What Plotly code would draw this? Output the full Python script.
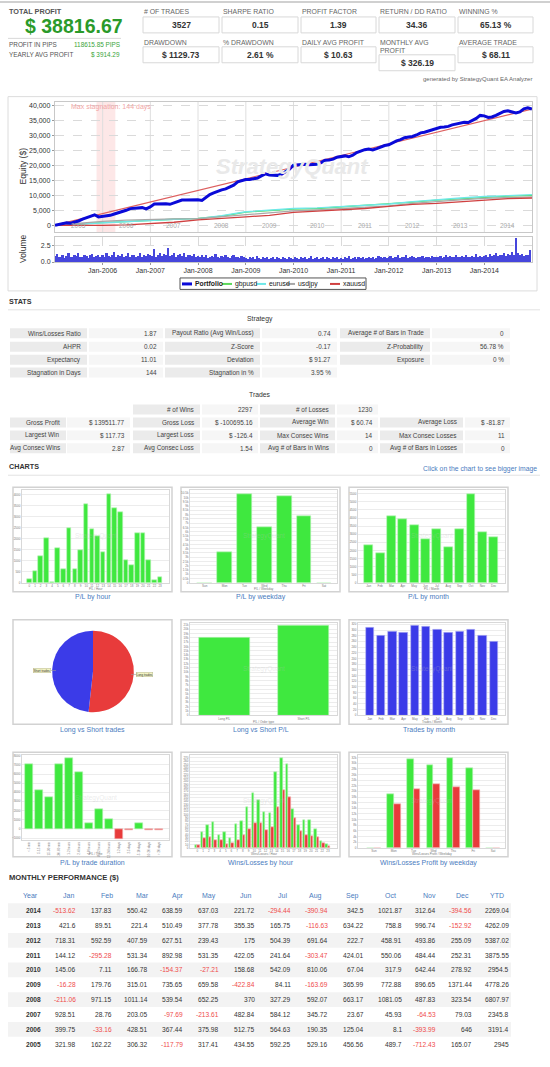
import numpy as np
import pandas as pd
import plotly.graph_objects as go

W, H = 550, 1067
FONT = "Liberation Sans, Arial, sans-serif"
GREEN = "#3fe83f"; GREEN_EDGE = "#b8f3b8"
RED = "#e83b3b"; RED_EDGE = "#f3b8b8"
BLUE = "#3b3be8"; BLUE_EDGE = "#b8b8f3"
LINK = "#4a7cc0"
TXT = "#444444"

# ====================== DATA ======================
summary_title = "TOTAL PROFIT"
summary_total = "$ 38816.67"
summary_side_labels = ["PROFIT IN PIPS", "YEARLY AVG PROFIT"]
summary_side_values = ["118615.85 PIPS", "$ 3914.29"]
kpi_labels_top = ["# OF TRADES", "SHARPE RATIO", "PROFIT FACTOR", "RETURN / DD RATIO", "WINNING %"]
kpi_values_top = ["3527", "0.15", "1.39", "34.36", "65.13 %"]
kpi_labels_bottom = ["DRAWDOWN", "% DRAWDOWN", "DAILY AVG PROFIT", "MONTHLY AVG|PROFIT", "AVERAGE TRADE"]
kpi_values_bottom = ["$ 1129.73", "2.61 %", "$ 10.63", "$ 326.19", "$ 68.11"]
generated_by = "generated by StrategyQuant EA Analyzer"

table_years = [2014, 2013, 2012, 2011, 2010, 2009, 2008, 2007, 2006, 2005]
month_names = ["Jan", "Feb", "Mar", "Apr", "May", "Jun", "Jul", "Aug", "Sep", "Oct", "Nov", "Dec"]
m2014 = [-513.62, 137.83, 550.42, 638.59, 637.03, 221.72, -294.44, -390.94, 342.5, 1021.87, 312.64, -394.56]
m2013 = [421.6, 89.51, 221.4, 510.49, 377.78, 355.35, 165.75, -116.63, 634.22, 758.8, 996.74, -152.92]
m2012 = [718.31, 592.59, 407.59, 627.51, 239.43, 175, 504.39, 691.64, 222.7, 458.91, 493.86, 255.09]
m2011 = [144.12, -295.28, 531.34, 892.98, 531.35, 422.05, 241.64, -303.47, 424.01, 550.06, 484.44, 252.31]
m2010 = [145.06, 7.11, 166.78, -154.37, -27.21, 158.68, 542.09, 810.06, 67.04, 317.9, 642.44, 278.92]
m2009 = [-16.28, 179.76, 315.01, 735.65, 659.58, -422.84, 84.11, -163.69, 365.99, 772.88, 896.65, 1371.44]
m2008 = [-211.06, 971.15, 1011.14, 539.54, 652.25, 370, 327.29, 592.07, 663.17, 1081.05, 487.83, 323.54]
m2007 = [928.51, 28.76, 203.05, -97.69, -213.61, 482.84, 584.12, 345.72, 23.67, 45.93, -64.53, 79.03]
m2006 = [399.75, -33.16, 428.51, 367.44, 375.98, 512.75, 564.63, 190.35, 125.04, 8.1, -393.99, 646]
m2005 = [321.98, 162.22, 306.32, -117.79, 317.41, 434.55, 592.25, 529.16, 456.56, 489.7, -712.43, 165.07]
monthly_rows = [m2014, m2013, m2012, m2011, m2010, m2009, m2008, m2007, m2006, m2005]
ytd_values = [2269.04, 4262.09, 5387.02, 3875.55, 2954.5, 4778.26, 6807.97, 2345.8, 3191.4, 2945]

# per-symbol equity read at half-year points (2005-01 .. 2015-01)
symbol_names = ["gbpusd", "eurusd", "usdjpy", "xauusd"]
symbol_colors = ["#5ad85a", "#6ee8e8", "#a8a8a8", "#d04040"]
gbpusd_eq = [0, 500, 900, 1200, 1700, 2000, 2300, 3000, 4400, 4900, 5400, 5600, 6100, 6500, 7000, 7700, 8400, 8900, 9400, 9700, 10000]
eurusd_eq = [0, 400, 800, 1300, 1800, 2000, 2200, 3200, 4500, 5000, 5600, 5800, 6300, 6700, 7100, 7900, 8600, 9100, 9600, 9900, 10200]
usdjpy_eq = [0, 700, 1300, 1700, 2000, 2100, 2200, 2800, 3600, 4100, 4800, 5100, 5500, 6000, 6500, 7300, 8000, 8500, 9000, 9300, 9500]
xauusd_eq = [0, -100, -50, 100, 600, 1000, 1800, 2200, 2800, 3300, 4300, 4700, 5100, 5600, 6300, 7000, 7300, 7800, 8500, 8900, 9100]

# volume, two readings per month
vol2005 = [0.9,1.2,0.7,0.8,1.1,0.6,0.9,1.3,0.8,0.7,1.0,0.9,1.4,0.8,0.7,1.1,0.9,0.6,1.0,1.2,0.8,0.9,1.1,0.7]
vol2006 = [1.0,0.8,1.3,0.9,0.7,1.1,1.5,0.8,1.0,0.9,1.2,0.7,0.9,1.4,0.8,1.0,1.1,0.7,0.9,1.3,0.8,1.0,0.9,1.2]
vol2007 = [1.1,0.9,1.9,0.8,1.0,1.3,0.9,1.2,1.0,2.1,0.9,1.1,1.4,0.8,1.0,1.2,0.9,1.3,0.8,1.0,1.1,0.9,1.2,0.8]
vol2008 = [0.9,0.7,1.0,0.8,1.1,0.6,0.8,0.9,0.7,1.2,0.8,0.6,0.9,0.7,1.0,0.8,0.6,0.9,1.1,0.7,0.8,0.6,0.9,0.7]
vol2009 = [0.6,0.5,0.8,0.6,0.7,0.5,0.9,0.6,0.5,0.7,0.6,0.8,0.5,0.6,0.7,0.5,0.8,0.6,0.5,0.7,0.6,0.5,0.8,0.6]
vol2010 = [0.5,0.7,0.6,0.5,0.8,0.6,0.7,0.5,0.6,0.9,0.5,0.6,0.7,0.5,0.6,0.8,0.5,0.7,0.6,0.5,0.7,0.6,0.8,0.5]
vol2011 = [0.6,0.5,0.7,0.6,0.9,0.5,0.6,0.7,0.5,0.8,0.6,0.7,0.5,0.6,0.8,0.6,0.7,0.5,0.6,0.9,0.7,0.6,0.8,0.6]
vol2012 = [0.7,0.9,0.6,0.8,0.7,1.0,0.6,0.8,0.7,1.1,0.6,0.8,0.9,0.7,0.6,0.8,0.7,0.9,0.6,0.8,0.7,0.6,0.9,0.7]
vol2013 = [0.8,0.7,0.9,0.6,0.8,1.0,0.7,0.9,0.8,0.7,1.1,0.8,0.7,0.9,0.8,1.0,0.7,0.8,0.9,0.7,1.2,0.8,0.9,0.7]
vol2014 = [0.9,1.1,0.8,1.2,0.9,1.0,1.3,0.9,1.1,1.0,1.4,0.9,1.2,1.0,1.5,1.1,3.7,1.3,1.0,1.2,0.9,1.1,1.0,1.8]
volume_rows = [vol2005, vol2006, vol2007, vol2008, vol2009, vol2010, vol2011, vol2012, vol2013, vol2014]

equity_ticks = [0, 5000, 10000, 15000, 20000, 25000, 30000, 35000, 40000]
stagnation_start, stagnation_end = "2005-11-15", "2006-04-08"
stagnation_text = "Max stagnation: 144 days"

strategy_labels = [["Wins/Losses Ratio", "Payout Ratio (Avg Win/Loss)", "Average # of Bars in Trade"],
                   ["AHPR", "Z-Score", "Z-Probability"],
                   ["Expectancy", "Deviation", "Exposure"],
                   ["Stagnation in Days", "Stagnation in %", None]]
strategy_values = [["1.87", "0.74", "0"], ["0.02", "-0.17", "56.78 %"],
                   ["11.01", "$ 91.27", "0 %"], ["144", "3.95 %", None]]
trades_labels = [[None, "# of Wins", "# of Losses", None],
                 ["Gross Profit", "Gross Loss", "Average Win", "Average Loss"],
                 ["Largest Win", "Largest Loss", "Max Consec Wins", "Max Consec Losses"],
                 ["Avg Consec Wins", "Avg Consec Loss", "Avg # of Bars in Wins", "Avg # of Bars in Losses"]]
trades_values = [[None, "2297", "1230", None],
                 ["$ 139511.77", "$ -100695.16", "$ 60.74", "$ -81.87"],
                 ["$ 117.73", "$ -126.4", "14", "11"],
                 ["2.87", "1.54", "0", "0"]]

hours = list(range(24))
pl_by_hour = [150, 540, 1200, 2025, 15, 1575, 630, 2475, 630, 1485, 3570, 2430, 2115, 1395, 4035, 3360, 3195, 1005, 795, 2235, 2235, 1035, 135, 270]
weekday_names = ["Sun", "Mon", "Tue", "Wed", "Thu", "Fri", "Sat"]
win_profit_weekday = [0, 19160, 31260, 29140, 31730, 28200, 0]
loss_profit_weekday = [0, 15510, 20800, 22560, 21500, 20330, 0]
pie_labels = ["Long trades", "Short trades"]
pie_counts = [1825, 1702]
long_short_labels = ["Long P/L", "Short P/L"]
long_short_pl = [18010, 20806]
trades_by_month = [308, 280, 294, 290, 315, 311, 302, 291, 295, 302, 282, 258]
duration_labels = ["< 5 min", "5-15 min", "15-30 min", "30-60 min", "1-2 hours", "2-4 hours", "4-8 hours",
                   "8-12 hours", "12-24 hours", "1-2 days", "2-5 days", "5-10 days", "10-20 days", "> 20 days"]
pl_by_duration = [7130, 4260, 3420, 7100, 7750, 6190, 580, 2180, 1060, -1090, -180, 580, -110, -110]
wins_by_hour = [8, 48, 67, 77, 37, 46, 29, 72, 81, 123, 165, 143, 107, 105, 228, 269, 252, 116, 68, 83, 84, 56, 21, 10]
losses_by_hour = [8, 28, 33, 23, 24, 12, 13, 23, 38, 56, 74, 75, 54, 62, 123, 172, 152, 90, 50, 37, 35, 31, 13, 5]

chart_captions = ["P/L by hour", "P/L by weekday", "P/L by month", "Long vs Short trades", "Long vs Short P/L",
                  "Trades by month", "P/L by trade duration", "Wins/Losses by hour", "Wins/Losses Profit by weekday"]
chart_axis_titles = ["P/L / Hour", "P/L / Weekday", "P/L / Month", None, "P/L / Order type", "Trades / Month",
                     "P/L / Time", "Wins/Losses / Hour", "Wins/Losses Profit / Weekday"]

# derived series
pl_by_month = [sum(row[i] for row in monthly_rows) for i in range(12)]
pl_by_weekday = [w - l for w, l in zip(win_profit_weekday, loss_profit_weekday)]

# ====================== HELPERS ======================
def X(p): return p / W
def Y(p): return 1 - p / H

shapes, ann = [], []

def text(x, y, s, size=7, color=TXT, bold=False, anchor="left", angle=0, italic=False, family=FONT, **kw):
    if bold:
        s = f"<b>{s}</b>"
    if italic:
        s = f"<i>{s}</i>"
    d = dict(x=X(x), y=Y(y), xref="paper", yref="paper", text=s, showarrow=False,
             xanchor=anchor, yanchor="middle", textangle=angle, borderpad=0,
             font=dict(size=size, color=color, family=family))
    d.update(kw)
    ann.append(d)

def rect(x0, y0, x1, y1, fill=None, line=None, lw=1, layer="below"):
    shapes.append(dict(type="rect", xref="paper", yref="paper", x0=X(x0), x1=X(x1), y0=Y(y1), y1=Y(y0),
                       fillcolor=fill or "rgba(0,0,0,0)",
                       line=dict(color=line or "rgba(0,0,0,0)", width=lw if line else 0), layer=layer))

def hline(x0, x1, y, color="#dddddd", w=1):
    shapes.append(dict(type="line", xref="paper", yref="paper", x0=X(x0), x1=X(x1), y0=Y(y), y1=Y(y),
                       line=dict(color=color, width=w)))

def seg(x0, y0, x1, y1, color, w):
    shapes.append(dict(type="line", xref="paper", yref="paper", x0=X(x0), x1=X(x1), y0=Y(y0), y1=Y(y1),
                       line=dict(color=color, width=w)))

def fmt(v):
    return f"{v:.2f}".rstrip("0").rstrip(".")

# ====================== HEADER ======================
hline(0, 550, 1, "#d0d0d0", 2)
text(8, 11, summary_title, 7.3, "#555", bold=True)
text(24, 25, summary_total, 19.5, "#2a9a2a", bold=True)
hline(8, 121, 37.5, "#d8d8d8", 1)
for i, (lb, vl) in enumerate(zip(summary_side_labels, summary_side_values)):
    yy = 43.5 + i * 10.5
    text(8, yy, lb, 6.4, "#555")
    text(121, yy, vl, 6.4, "#3aa53a", anchor="right")

box_x = [(143, 219), (222, 298), (301, 376), (379, 455), (458, 533)]
for i, (x0, x1) in enumerate(box_x):
    text(x0, 11, kpi_labels_top[i], 6.9, "#666")
    rect(x0, 16, x1, 32, "white", "#d8d8d8", 1)
    text((x0 + x1) / 2, 24.5, kpi_values_top[i], 8.5, "#333", bold=True, anchor="center")
    lab = kpi_labels_bottom[i]
    if "|" in lab:
        a, b = lab.split("|")
        text(x0, 42, a, 6.9, "#666")
        text(x0, 50, b, 6.9, "#666")
        by0 = 54
    else:
        text(x0, 42, lab, 6.9, "#666")
        by0 = 46
    rect(x0, by0, x1, by0 + 16, "white", "#d8d8d8", 1)
    text((x0 + x1) / 2, by0 + 8.5, kpi_values_bottom[i], 8.5, "#333", bold=True, anchor="center")
text(533, 78, generated_by, 6.0, "#666", anchor="right")

# ====================== EQUITY CHART ======================
rect(8, 96, 537, 291, "white", "#dcdcdc", 1)
eq_years = sorted(set(table_years))
month_dates = [pd.Timestamp(y, m, 1) + pd.offsets.MonthEnd(0) for y in eq_years for m in range(1, 13)]
monthly_flat = [v for y in eq_years for v in monthly_rows[table_years.index(y)]]
portfolio_x = [pd.Timestamp(eq_years[0], 1, 1)] + month_dates
portfolio_y = [0.0] + list(np.cumsum(monthly_flat))
half_year_dates = [pd.Timestamp(y, m, 1) for y in eq_years for m in (1, 7)] + [pd.Timestamp(eq_years[-1] + 1, 1, 1)]
x_start, x_end = pd.Timestamp(eq_years[0], 1, 1), pd.Timestamp(eq_years[-1] + 1, 1, 1)

fig = go.Figure()
for name, col, ys in zip(symbol_names, symbol_colors, [gbpusd_eq, eurusd_eq, usdjpy_eq, xauusd_eq]):
    fig.add_trace(go.Scatter(x=half_year_dates, y=ys, mode="lines", name=name,
                             line=dict(color=col, width=1.3), xaxis="x", yaxis="y"))
fig.add_trace(go.Scatter(x=[portfolio_x[0], portfolio_x[-1]], y=[portfolio_y[0], portfolio_y[-1]],
                         mode="lines", line=dict(color="#dd6060", width=1.2), xaxis="x", yaxis="y"))
fig.add_trace(go.Scatter(x=portfolio_x, y=portfolio_y, mode="lines", name="Portfolio",
                         line=dict(color="#0a0ad8", width=3), xaxis="x", yaxis="y"))

vol_dates = [pd.Timestamp(y, m, d) for y in eq_years for m in range(1, 13) for d in (1, 16)]
vol_vals = [v for row in volume_rows for v in row]
fig.add_trace(go.Bar(x=vol_dates, y=vol_vals, marker=dict(color="#4646dc", line=dict(width=0)),
                     xaxis="x2", yaxis="y2"))

# stagnation + year gridlines + year labels
shapes.append(dict(type="rect", xref="x", yref="y domain", x0=stagnation_start, x1=stagnation_end, y0=0, y1=1,
                   fillcolor="rgba(250,185,185,0.35)", line=dict(width=0), layer="below"))
for yv in eq_years[1:]:
    shapes.append(dict(type="line", xref="x", yref="y domain", x0=f"{yv}-01-01", x1=f"{yv}-01-01", y0=0, y1=1,
                       line=dict(color="#dedede", width=1), layer="below"))
for yv in eq_years:
    ann.append(dict(x=pd.Timestamp(yv, 7, 1), y=0.0, xref="x", yref="y domain", text=str(yv), showarrow=False,
                    xanchor="center", yanchor="bottom", yshift=1, font=dict(size=6.5, color="#aaaaaa", family=FONT)))
# equity tick labels placed on the y scale
for v in equity_ticks:
    ann.append(dict(x=X(52), y=v, xref="paper", yref="y", text=f"{v:,}", showarrow=False,
                    xanchor="right", yanchor="middle", borderpad=0, font=dict(size=7, color="#333", family=FONT)))
text(70, 106, stagnation_text, 7, "#f2a6a6")
text(292, 166, "StrategyQuant", 22, "#e9e9e9", bold=True, italic=True, anchor="center")
text(23, 166, "Equity ($)", 8.5, "#333", angle=-90, anchor="center")
text(23, 249, "Volume", 8.5, "#333", angle=-90, anchor="center")

# legend
rect(180, 278, 366, 289.5, "white", "#555555", 1, layer="above")
leg_items = [("Portfolio", "#0a0ad8", 3, 182, 192)] + \
            [(n, c, 2, a, b) for n, c, a, b in zip(symbol_names, symbol_colors, [222, 256, 286, 330], [232, 266, 295, 340])]
for name, col, lw, a, b in leg_items:
    seg(a, 284, b, 284, col, lw)
    text(b + 2, 284, name, 6.8, "#222", bold=(name == "Portfolio"))

# ====================== STATS ======================
text(8, 302, "STATS", 7.2, "#333", bold=True)
hline(8, 540, 310, "#e2e2e2", 1)
text(260, 319, "Strategy", 6.8, "#333", anchor="center")
s_lab = [(10, 87), (165, 260), (340, 430)]
s_val = [(89, 163), (262, 337), (432, 510)]
s_rows = [333.5, 347, 360, 373]
for r, yy in enumerate(s_rows):
    for c in range(3):
        lb = strategy_labels[r][c]
        if lb is None:
            continue
        (a, b), (p, q) = s_lab[c], s_val[c]
        rect(a, yy - 5, b, yy + 5, "#ebebeb")
        rect(p, yy - 5, q, yy + 5, "#f6f6f6")
        text(b - 5, yy, lb, 6.4, TXT, anchor="right")
        text(q - 5, yy, strategy_values[r][c], 6.4, TXT, anchor="right")

text(260, 395, "Trades", 6.8, "#333", anchor="center")
t_lab = [(10, 66), (133, 200), (260, 335), (380, 463)]
t_val = [(67, 130), (202, 258), (337, 378), (465, 510)]
t_rows = [410, 423, 436, 449]
for r, yy in enumerate(t_rows):
    for c in range(4):
        lb = trades_labels[r][c]
        if lb is None:
            continue
        (a, b), (p, q) = t_lab[c], t_val[c]
        rect(a, yy - 5, b, yy + 5, "#ebebeb")
        rect(p, yy - 5, q, yy + 5, "#f6f6f6")
        text(b - 5, yy, lb, 6.4, TXT, anchor="right")
        text(q - 4, yy, trades_values[r][c], 6.4, TXT, anchor="right")

# ====================== CHARTS ======================
text(8, 467, "CHARTS", 7.2, "#333", bold=True)
text(538, 470, "Click on the chart to see bigger image", 6.8, LINK, anchor="right")
hline(8, 540, 476, "#e2e2e2", 1)

col_x = [(13, 172), (181, 340), (349, 508)]
row_y = [(488, 593), (621, 726), (754, 859)]
boxes = [(cx[0], ry[0], cx[1], ry[1]) for ry in row_y for cx in col_x]
caption_y = [598, 732, 865]
for k, (x0, y0, x1, y1) in enumerate(boxes):
    rect(x0, y0, x1, y1, "white", "#d2d2d2", 1.5)
    text((x0 + x1) / 2, caption_y[k // 3], chart_captions[k], 7, LINK, anchor="center")

layout_axes = {}

def small_chart(idx, k, xr, yr, tickvals, ticktext, nticks, bottom_pad=9, tickangle=0):
    x0, y0, x1, y1 = boxes[k]
    px0, px1, py0, py1 = x0 + 9, x1 - 3, y0 + 3, y1 - bottom_pad
    layout_axes[f"xaxis{idx}"] = dict(domain=[X(px0), X(px1)], anchor=f"y{idx}", range=xr,
                                      tickmode="array", tickvals=tickvals, ticktext=ticktext,
                                      tickfont=dict(size=3, color="#777"), tickangle=tickangle,
                                      showgrid=False, zeroline=False, ticks="", showline=True,
                                      linecolor="#d8d8d8", mirror=True)
    layout_axes[f"yaxis{idx}"] = dict(domain=[Y(py1), Y(py0)], anchor=f"x{idx}", range=yr, nticks=nticks,
                                      tickfont=dict(size=3, color="#777"), showgrid=True,
                                      gridcolor="#ececec", gridwidth=0.6, zeroline=False, ticks="",
                                      showline=True, linecolor="#d8d8d8", mirror=True)
    text((px0 + px1) / 2, (py0 + py1) / 2, "StrategyQuant", 6.5, "rgba(190,190,190,0.3)", anchor="center")
    if chart_axis_titles[k]:
        text((px0 + px1) / 2, y1 - 2.5, chart_axis_titles[k], 3, "#777", anchor="center")

def bars(idx, xs, ys, color, edge, width, offset=None):
    b = go.Bar(x=xs, y=ys, width=width, marker=dict(color=color, line=dict(color=edge, width=0.6)),
               xaxis=f"x{idx}", yaxis=f"y{idx}")
    if offset is not None:
        b.offset = offset
    fig.add_trace(b)

# P/L by hour
bars(3, hours, pl_by_hour, GREEN, GREEN_EDGE, 0.8)
small_chart(3, 0, [-1.28, 24.57], [0, max(pl_by_hour) * 1.04], hours, [str(h) for h in hours], 18)
# P/L by weekday
wd = list(range(7))
bars(4, wd, pl_by_weekday, GREEN, GREEN_EDGE, 0.74)
small_chart(4, 1, [-0.74, 6.66], [0, max(pl_by_weekday) * 1.04], wd, weekday_names, 28)
# P/L by month
mo = list(range(12))
bars(5, mo, pl_by_month, GREEN, GREEN_EDGE, 0.78)
small_chart(5, 2, [-0.95, 12.0], [0, max(pl_by_month) * 1.04], mo, month_names, 28)
# Pie
fig.add_trace(go.Pie(values=pie_counts, labels=pie_labels, sort=False, direction="clockwise", rotation=0,
                     marker=dict(colors=[RED, BLUE], line=dict(width=0)), textinfo="none",
                     domain=dict(x=[X(52), X(134)], y=[Y(714), Y(632)]), showlegend=False))
seg(48, 672, 56, 672, "#999", 0.6)
seg(131, 676, 137, 676, "#999", 0.6)
text(42, 672, pie_labels[1], 3, "#333", anchor="center", bgcolor="#f4f4c4", bordercolor="#b8b890", borderwidth=0.5)
text(144, 676, pie_labels[0], 3, "#333", anchor="center", bgcolor="#f4f4c4", bordercolor="#b8b890", borderwidth=0.5)
# Long vs Short P/L
ls = [0, 1]
bars(6, ls, long_short_pl, GREEN, GREEN_EDGE, 0.64)
small_chart(6, 4, [-0.43, 1.42], [0, max(long_short_pl) * 1.035], ls, long_short_labels, 28)
# Trades by month
bars(7, mo, trades_by_month, BLUE, BLUE_EDGE, 0.75)
small_chart(7, 5, [-1.05, 12.0], [0, max(trades_by_month) * 1.035], mo, month_names, 18)
# P/L by trade duration
du = list(range(len(pl_by_duration)))
dcol = [GREEN if v >= 0 else RED for v in pl_by_duration]
dedge = [GREEN_EDGE if v >= 0 else RED_EDGE for v in pl_by_duration]
fig.add_trace(go.Bar(x=du, y=pl_by_duration, width=0.75, marker=dict(color=dcol, line=dict(color=dedge, width=0.6)),
                     xaxis="x8", yaxis="y8"))
small_chart(8, 6, [-0.7, 14.0], [-1200, max(pl_by_duration) * 1.04], du, duration_labels, 18,
            bottom_pad=17, tickangle=-90)
# Wins/Losses by hour
bars(9, hours, wins_by_hour, GREEN, GREEN_EDGE, 0.45, offset=-0.45)
bars(9, hours, losses_by_hour, RED, RED_EDGE, 0.45, offset=0.0)
small_chart(9, 7, [-1.3, 24.6], [0, max(wins_by_hour) * 1.035], hours, [str(h) for h in hours], 28)
# Wins/Losses profit by weekday
bars(10, wd, win_profit_weekday, GREEN, GREEN_EDGE, 0.34, offset=-0.34)
bars(10, wd, loss_profit_weekday, RED, RED_EDGE, 0.34, offset=0.0)
small_chart(10, 8, [-0.8, 6.6], [0, max(win_profit_weekday) * 1.035], wd, weekday_names, 24)

# ====================== MONTHLY PERFORMANCE ======================
text(8, 880, "MONTHLY PERFORMANCE ($)", 7.6, "#333", bold=True)
header_y = 898
head_cx = [68, 107, 142, 178, 209, 245, 282, 315, 352, 390, 429, 462]
val_rx = [77, 113, 149, 184, 220, 256, 292, 329, 365, 403, 437, 473]
text(30, header_y, "Year", 7, LINK, anchor="center")
for cx, mn in zip(head_cx, month_names):
    text(cx, header_y, mn, 7, LINK, anchor="center")
text(497, header_y, "YTD", 7, LINK, anchor="center")
for r, (yr, row, ytd) in enumerate(zip(table_years, monthly_rows, ytd_values)):
    yy = 913 + r * 14.9
    if r % 2 == 0:
        rect(8, yy - 7.4, 511, yy + 7.4, "#f3f3f3")
    text(42, yy, str(yr), 6.6, "#333", bold=True, anchor="right")
    for v, rx in zip(row, val_rx):
        text(rx, yy, fmt(v), 6.6, "#ef4b4b" if v < 0 else "#333", anchor="right")
    text(510, yy, fmt(ytd), 6.6, "#ef4b4b" if ytd < 0 else "#333", anchor="right")

# ====================== LAYOUT ======================
jan_ticks = [pd.Timestamp(y, 1, 1) for y in eq_years[1:]]
layout_axes["xaxis"] = dict(domain=[X(55), X(532)], anchor="y", type="date", range=[x_start, x_end],
                            showticklabels=False, ticks="",
                            showgrid=False, zeroline=False, showline=True, linecolor="#c8c8c8", mirror=True)
layout_axes["yaxis"] = dict(domain=[Y(232), Y(101)], anchor="x", range=[-2300, 41300],
                            tickmode="array", tickvals=equity_ticks, showticklabels=False,
                            showgrid=True, gridcolor="#dadada", griddash="dash", zeroline=False, showline=True,
                            linecolor="#c8c8c8", mirror=True, ticks="outside", ticklen=2, tickcolor="#999")
layout_axes["xaxis2"] = dict(domain=[X(55), X(532)], anchor="y2", type="date", range=[x_start, x_end],
                             tickmode="array", tickvals=jan_ticks, ticktext=[t.strftime("Jan-%Y") for t in jan_ticks],
                             tickfont=dict(size=7, color="#333"), showgrid=True, gridcolor="#dadada",
                             griddash="dash", zeroline=False, showline=True, linecolor="#c8c8c8", mirror=True,
                             ticks="outside", ticklen=2, tickcolor="#999")
layout_axes["yaxis2"] = dict(domain=[Y(262), Y(237)], anchor="x2", range=[0, 3.8], tickmode="array",
                             tickvals=[0, 2.5], ticktext=["0.0", "2.5"], tickfont=dict(size=7, color="#333"),
                             showgrid=True, gridcolor="#dadada", griddash="dash", zeroline=False, showline=True,
                             linecolor="#c8c8c8", mirror=True, ticks="outside", ticklen=2, tickcolor="#999")

fig.update_layout(width=W, height=H, autosize=False, margin=dict(l=0, r=0, t=0, b=0, pad=0),
                  paper_bgcolor="white", plot_bgcolor="rgba(0,0,0,0)", showlegend=False,
                  barmode="overlay", bargap=0, hovermode=False, font=dict(family=FONT),
                  shapes=shapes, annotations=ann, **layout_axes)
fig.update_traces(selector=dict(type="bar"), hoverinfo="skip")

fig.write_html("out.html", config={"displayModeBar": False},
               post_script="document.body.style.margin='0';document.body.style.overflow='hidden';")
